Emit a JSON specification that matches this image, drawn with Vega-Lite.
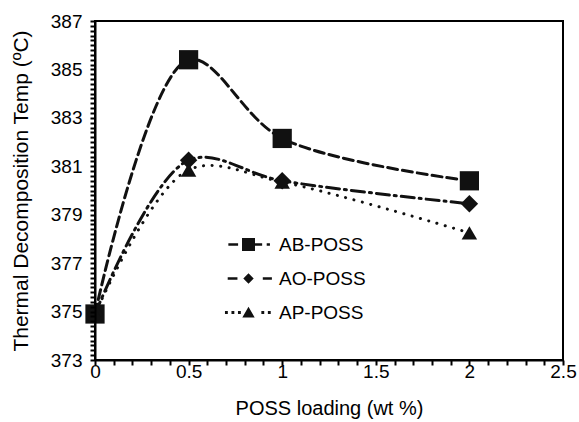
{
  "$schema": "https://vega.github.io/schema/vega-lite/v6.json",
  "width": 468,
  "height": 339,
  "padding": {"left": 10, "top": 12, "right": 6, "bottom": 5},
  "background": "white",
  "config": {
    "font": "Liberation Sans",
    "view": {"stroke": "black", "strokeWidth": 2}
  },
  "data": {
    "values": [
      {"series": "AB-POSS", "x": 0, "y": 374.9},
      {"series": "AB-POSS", "x": 0.5, "y": 385.4},
      {"series": "AB-POSS", "x": 1, "y": 382.15},
      {"series": "AB-POSS", "x": 2, "y": 380.4},
      {"series": "AO-POSS", "x": 0, "y": 374.9},
      {"series": "AO-POSS", "x": 0.5, "y": 381.25},
      {"series": "AO-POSS", "x": 1, "y": 380.4},
      {"series": "AO-POSS", "x": 2, "y": 379.45},
      {"series": "AP-POSS", "x": 0, "y": 374.9},
      {"series": "AP-POSS", "x": 0.5, "y": 380.85},
      {"series": "AP-POSS", "x": 1, "y": 380.35},
      {"series": "AP-POSS", "x": 2, "y": 378.25}
    ]
  },
  "encoding": {
    "x": {
      "field": "x",
      "type": "quantitative",
      "scale": {"domain": [0, 2.5], "nice": false, "zero": false},
      "axis": {
        "title": "POSS loading (wt %)",
        "values": [0, 0.1, 0.2, 0.3, 0.4, 0.5, 0.6, 0.7, 0.8, 0.9, 1, 1.1, 1.2, 1.3, 1.4, 1.5, 1.6, 1.7, 1.8, 1.9, 2, 2.1, 2.2, 2.3, 2.4, 2.5],
        "labelExpr": "abs(datum.value*2 - round(datum.value*2)) < 0.01 ? format(datum.value, '~g') : ''",
        "grid": false,
        "ticks": true,
        "zindex": 2,
        "domainColor": "black",
        "domainWidth": 2,
        "tickColor": "black",
        "tickWidth": 2,
        "tickSize": 5,
        "labelPadding": -3,
        "labelColor": "black",
        "labelFontSize": 19,
        "labelFlush": false,
        "labelOverlap": false,
        "titleColor": "black",
        "titleFontSize": 20,
        "titleFontWeight": "normal",
        "titlePadding": 17,
        "encode": {
          "ticks": {
            "update": {
              "stroke": {"value": "black"},
              "strokeWidth": {"value": 2},
              "opacity": {"value": 1},
              "y": {"value": 0},
              "y2": [
                {"test": "abs(datum.value*2 - round(datum.value*2)) < 0.01", "value": -7},
                {"value": -4}
              ]
            }
          }
        }
      }
    },
    "y": {
      "field": "y",
      "type": "quantitative",
      "scale": {"domain": [373, 387], "nice": false, "zero": false},
      "axis": {
        "title": "Thermal Decomposition Temp (ºC)",
        "values": [373, 373.2, 373.4, 373.6, 373.8, 374, 374.2, 374.4, 374.6, 374.8, 375, 375.2, 375.4, 375.6, 375.8, 376, 376.2, 376.4, 376.6, 376.8, 377, 377.2, 377.4, 377.6, 377.8, 378, 378.2, 378.4, 378.6, 378.8, 379, 379.2, 379.4, 379.6, 379.8, 380, 380.2, 380.4, 380.6, 380.8, 381, 381.2, 381.4, 381.6, 381.8, 382, 382.2, 382.4, 382.6, 382.8, 383, 383.2, 383.4, 383.6, 383.8, 384, 384.2, 384.4, 384.6, 384.8, 385, 385.2, 385.4, 385.6, 385.8, 386, 386.2, 386.4, 386.6, 386.8, 387],
        "labelExpr": "(abs(datum.value - round(datum.value)) < 0.01 && round(datum.value) % 2 == 1) ? format(datum.value, 'd') : ''",
        "grid": false,
        "ticks": true,
        "zindex": 2,
        "domainColor": "black",
        "domainWidth": 2,
        "tickColor": "black",
        "tickWidth": 2,
        "tickSize": 5,
        "labelPadding": 8,
        "labelColor": "black",
        "labelFontSize": 19,
        "labelFlush": false,
        "labelOverlap": false,
        "titleColor": "black",
        "titleFontSize": 21,
        "titleFontWeight": "normal",
        "titlePadding": 19,
        "encode": {
          "ticks": {
            "update": {
              "stroke": {"value": "black"},
              "strokeWidth": {"value": 2},
              "opacity": {"value": 1},
              "x": {"value": 0},
              "x2": [
                {"test": "abs(datum.value - round(datum.value)) < 0.01 && round(datum.value) % 2 == 1", "value": 7},
                {"value": 4}
              ]
            }
          }
        }
      }
    }
  },
  "layer": [
    {
      "mark": {"type": "line", "interpolate": "catmull-rom", "color": "#111", "strokeCap": "round"},
      "encoding": {
        "strokeDash": {
          "field": "series",
          "type": "nominal",
          "scale": {"domain": ["AB-POSS", "AO-POSS", "AP-POSS"], "range": [[10, 5], [13, 5, 2, 5], [0.1, 8.5]]},
          "legend": null
        },
        "strokeWidth": {
          "field": "series",
          "type": "nominal",
          "scale": {"domain": ["AB-POSS", "AO-POSS", "AP-POSS"], "range": [3, 3, 5]},
          "legend": null
        }
      }
    },
    {
      "mark": {"type": "point", "filled": true, "color": "#111", "opacity": 1},
      "encoding": {
        "shape": {
          "field": "series",
          "type": "nominal",
          "scale": {"domain": ["AB-POSS", "AO-POSS", "AP-POSS"], "range": ["square", "diamond", "triangle-up"]},
          "legend": null
        },
        "size": {
          "field": "series",
          "type": "nominal",
          "scale": {"domain": ["AB-POSS", "AO-POSS", "AP-POSS"], "range": [370, 240, 300]},
          "legend": null
        }
      }
    },
    {
      "mark": {"type": "point", "filled": true, "color": "#111", "opacity": 0},
      "encoding": {
        "shape": {
          "field": "series",
          "type": "nominal",
          "scale": {
            "domain": ["AB-POSS", "AO-POSS", "AP-POSS"],
            "range": [
              "M-3.1,-0.2H-1.6V0.2H-3.1Z M-1,-1H1V1H-1Z M1,-0.2H2.1V0.2H1Z M2.8,-0.2H3.3V0.2H2.8Z",
              "M-3.2,-0.2H-1.7V0.2H-3.2Z M0,-0.8L0.8,0L0,0.8L-0.8,0Z M2.2,-0.2H3.6V0.2H2.2Z",
              "M-3.62,-0.22H-3.18V0.22H-3.62Z M-2.62,-0.22H-2.18V0.22H-2.62Z M-1.62,-0.22H-1.18V0.22H-1.62Z M0,-0.9L0.95,0.75L-0.95,0.75Z M1.98,-0.22H2.42V0.22H1.98Z M2.98,-0.22H3.42V0.22H2.98Z"
            ]
          },
          "legend": {
            "title": null,
            "orient": "none",
            "legendX": 144,
            "legendY": 214,
            "padding": 0,
            "symbolSize": 169,
            "labelFontSize": 19,
            "labelColor": "black",
            "labelOffset": 21,
            "rowPadding": 14,
            "labelLimit": 200,
            "encode": {
              "symbols": {
                "update": {
                  "fill": {"value": "#111"},
                  "opacity": {"value": 1},
                  "fillOpacity": {"value": 1},
                  "strokeWidth": {"value": 0}
                }
              }
            }
          }
        }
      }
    }
  ],
  "resolve": {"scale": {"shape": "independent", "size": "independent", "strokeWidth": "independent"}}
}
